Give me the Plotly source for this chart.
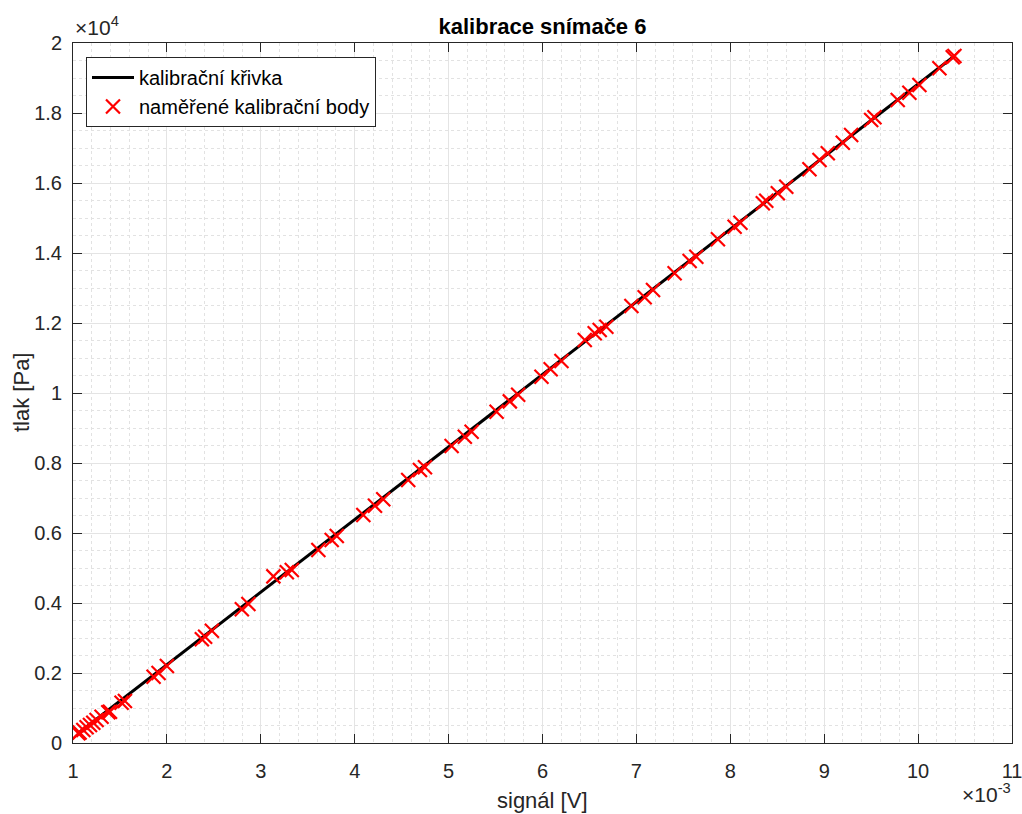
import numpy as np
import plotly.graph_objects as go

# measured calibration points: signal in mV (axis shown as x10^-3 V), pressure in Pa
signal_mV = [1.056, 1.070, 1.110, 1.145, 1.181, 1.216, 1.251, 1.304, 1.376, 1.394,
             1.517, 1.553, 1.858, 1.911, 2.000, 2.372, 2.407, 2.479, 2.798, 2.868,
             3.134, 3.277, 3.330, 3.613, 3.755, 3.809, 4.092, 4.216, 4.304, 4.570,
             4.695, 4.748, 5.032, 5.173, 5.245, 5.511, 5.652, 5.741, 5.989, 6.087,
             6.202, 6.450, 6.556, 6.609, 6.680, 6.947, 7.088, 7.177, 7.407, 7.567,
             7.638, 7.868, 8.046, 8.108, 8.346, 8.383, 8.506, 8.596, 8.843, 8.950,
             9.038, 9.198, 9.287, 9.500, 9.535, 9.783, 9.907, 10.014, 10.227, 10.369,
             10.387]
pressure_Pa = [277, 300, 371, 449, 514, 580, 657, 751, 877, 894,
               1149, 1200, 1894, 2000, 2200, 2963, 3037, 3209, 3820, 3971,
               4760, 4877, 4943, 5514, 5800, 5914, 6514, 6780, 6963, 7514,
               7800, 7877, 8486, 8751, 8894, 9466, 9760, 9950, 10466, 10680,
               10914, 11514, 11706, 11800, 11894, 12486, 12734, 12943, 13420, 13771,
               13894, 14391, 14751, 14866, 15420, 15494, 15706, 15894, 16391, 16657,
               16849, 17151, 17371, 17800, 17877, 18371, 18580, 18800, 19277, 19591,
               19629]

# calibration curve
curve_mV = [1.056, 10.387]
curve_Pa = [280, 19630]

x_tick_mV = [1, 2, 3, 4, 5, 6, 7, 8, 9, 10, 11]
x_tick_labels = ['1', '2', '3', '4', '5', '6', '7', '8', '9', '10', '11']
y_tick_Pa = [0, 2000, 4000, 6000, 8000, 10000, 12000, 14000, 16000, 18000, 20000]
y_tick_labels = ['0', '0.2', '0.4', '0.6', '0.8', '1', '1.2', '1.4', '1.6', '1.8', '2']

title_text = 'kalibrace snímače 6'
x_label = 'signál [V]'
y_label = 'tlak [Pa]'
name_curve = 'kalibrační křivka'
name_points = 'naměřené kalibrační body'

sig_V = np.array(signal_mV) * 1e-3
curve_V = np.array(curve_mV) * 1e-3
x_tick_V = np.array(x_tick_mV) * 1e-3

FONT = 'Liberation Sans, Arial, sans-serif'
AX = '#262626'
W, H = 1022, 814
L, R, T, B = 73, 10, 43, 71
PW, PH = W - L - R, H - T - B

def px_x(px):
    return (px - L) / PW

def px_y(py):
    return 1 - (py - T) / PH

fig = go.Figure()
fig.add_trace(go.Scatter(x=curve_V, y=curve_Pa, mode='lines', name=name_curve,
                         line=dict(color='black', width=3)))
fig.add_trace(go.Scatter(x=sig_V, y=pressure_Pa, mode='markers', name=name_points,
                         marker=dict(symbol='x-thin', size=14, color='red',
                                     line=dict(color='red', width=2.2))))

fig.update_layout(
    width=W, height=H,
    margin=dict(l=L, r=R, t=T, b=B, autoexpand=False),
    paper_bgcolor='white', plot_bgcolor='white',
    font=dict(family=FONT, color=AX, size=20),
    title=dict(text='<b>' + title_text + '</b>', x=(L + W - R) / 2 / W, xanchor='center',
               y=1 - 26 / H, yanchor='middle', font=dict(size=22, color='black')),
    showlegend=True,
    legend=dict(x=px_x(86), y=px_y(57), xanchor='left', yanchor='top',
                bgcolor='white', bordercolor=AX, borderwidth=1, itemwidth=42,
                font=dict(size=20, color='black'), tracegroupgap=0),
)

fig.update_xaxes(range=[1e-3, 11e-3], tickmode='array', tickvals=x_tick_V, ticktext=x_tick_labels,
                 ticks='inside', ticklen=9, tickcolor=AX, showline=True, linecolor=AX, linewidth=1,
                 mirror='ticks', showgrid=True, gridcolor='#e4e4e4', gridwidth=1, zeroline=False,
                 tickfont=dict(size=20, color=AX), ticklabelstandoff=10, automargin=False,
                 ticklabeloverflow='allow',
                 minor=dict(tickmode='linear', tick0=0, dtick=0.2e-3, showgrid=True,
                            gridcolor='#e2e2e2', griddash='dot', gridwidth=1, ticks=''))
fig.update_yaxes(range=[0, 20000], tickmode='array', tickvals=y_tick_Pa, ticktext=y_tick_labels,
                 ticks='inside', ticklen=9, tickcolor=AX, showline=True, linecolor=AX, linewidth=1,
                 mirror='ticks', showgrid=True, gridcolor='#e4e4e4', gridwidth=1, zeroline=False,
                 tickfont=dict(size=20, color=AX), ticklabelstandoff=6, automargin=False,
                 ticklabeloverflow='allow',
                 minor=dict(tickmode='linear', tick0=0, dtick=500, showgrid=True,
                            gridcolor='#e2e2e2', griddash='dot', gridwidth=1, ticks=''))

# axis titles
fig.add_annotation(xref='paper', yref='paper', x=px_x((L + W - R) / 2), y=px_y(800),
                   xanchor='center', yanchor='middle', text=x_label, showarrow=False,
                   font=dict(size=22, color=AX))
fig.add_annotation(xref='paper', yref='paper', x=px_x(21), y=px_y(T + PH / 2),
                   xanchor='center', yanchor='middle', text=y_label, showarrow=False,
                   textangle=-90, font=dict(size=22, color=AX))
# exponent labels
fig.add_annotation(xref='paper', yref='paper', x=px_x(73), y=px_y(41), xanchor='left', yanchor='bottom',
                   text='×10<sup>4</sup>', showarrow=False, font=dict(size=21, color=AX))
fig.add_annotation(xref='paper', yref='paper', x=px_x(1013), y=px_y(808), xanchor='right', yanchor='bottom',
                   text='×10<sup>-3</sup>', showarrow=False, font=dict(size=21, color=AX))

fig.write_html('out.html', config={'displayModeBar': False},
               post_script="document.body.style.margin='0';document.body.style.overflow='hidden';")
